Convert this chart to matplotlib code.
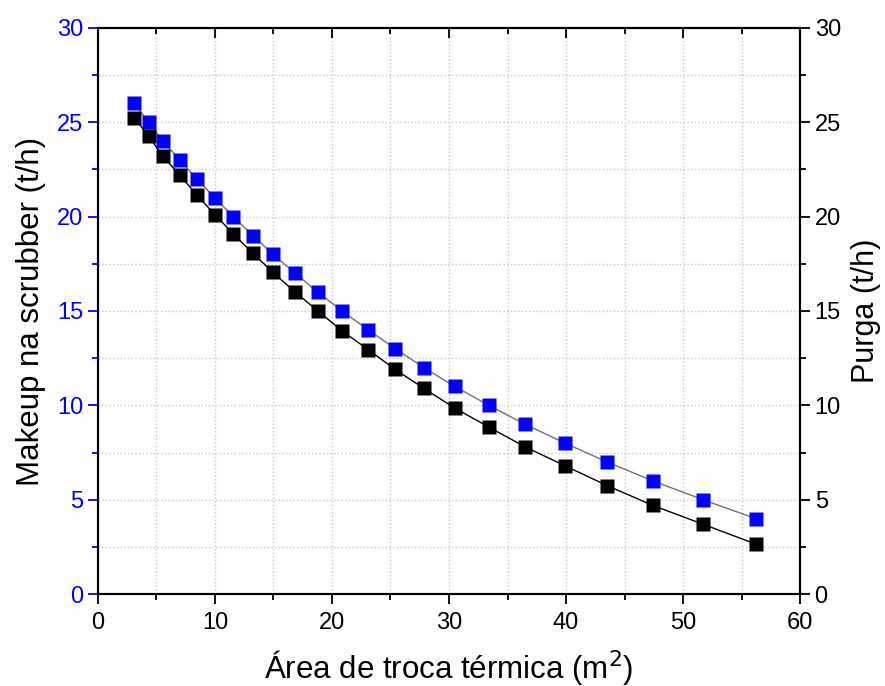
import matplotlib
matplotlib.use("Agg")
import matplotlib.pyplot as plt
from matplotlib.ticker import MultipleLocator

plt.rcParams['font.family'] = ['Liberation Sans', 'DejaVu Sans']

# Dados
area = [3.1, 4.35, 5.55, 7.0, 8.45, 10.0, 11.55, 13.25, 14.95, 16.85, 18.8, 20.85,
        23.1, 25.4, 27.85, 30.5, 33.4, 36.5, 39.9, 43.5, 47.4, 51.7, 56.2]
makeup = [26, 25, 24, 23, 22, 21, 20, 19, 18, 17, 16, 15,
          14, 13, 12, 11, 10, 9, 8, 7, 6, 5, 4]
purga = [25.25, 24.25, 23.2, 22.2, 21.15, 20.1, 19.1, 18.05, 17.05, 16.0, 15.0, 13.95,
         12.95, 11.9, 10.9, 9.85, 8.85, 7.8, 6.8, 5.75, 4.7, 3.7, 2.65]

fig = plt.figure(figsize=(8.85, 6.86), dpi=100)
ax = fig.add_axes([0.1107, 0.1341, 0.7933, 0.8251])
ax2 = ax.twinx()

ax.plot(area, makeup, color='#707070', lw=1.0, marker='s', ms=10.5,
        mfc='#0000ff', mec='none', zorder=3)
ax2.plot(area, purga, color='black', lw=1.0, marker='s', ms=10.5,
         mfc='black', mec='none', zorder=3)

for a in (ax, ax2):
    a.set_xlim(0, 60)
    a.set_ylim(0, 30)
    a.yaxis.set_major_locator(MultipleLocator(5))
    a.yaxis.set_minor_locator(MultipleLocator(2.5))
    for s in a.spines.values():
        s.set_linewidth(1.5)

ax.xaxis.set_major_locator(MultipleLocator(10))
ax.xaxis.set_minor_locator(MultipleLocator(5))

ax.grid(True, which='both', color='#c8c8c8', ls=':', lw=1.0)
ax.set_axisbelow(True)

ax.tick_params(axis='x', which='both', direction='out', top=True, labeltop=False,
               labelsize=17, width=1.3, pad=6)
ax.tick_params(axis='x', which='major', length=7)
ax.tick_params(axis='x', which='minor', length=4)

ax.tick_params(axis='y', which='both', direction='out', colors='#0000ff', labelsize=17, width=1.3)
ax.tick_params(axis='y', which='major', length=7)
ax.tick_params(axis='y', which='minor', length=4)
ax.spines['left'].set_color('#0000ff')

ax2.tick_params(axis='y', which='both', direction='out', labelsize=17, width=1.3)
ax2.tick_params(axis='y', which='major', length=7)
ax2.tick_params(axis='y', which='minor', length=4)

ax.set_xlabel('Área de troca térmica (m$^2$)', fontsize=22.5, labelpad=10)
ax.set_ylabel('Makeup na scrubber (t/h)', fontsize=22.5, labelpad=8)
ax2.set_ylabel('Purga (t/h)', fontsize=22, labelpad=7)

# ticks do eixo superior para dentro
for t in ax.xaxis.get_major_ticks() + ax.xaxis.get_minor_ticks():
    t.tick2line.set_marker(3)

fig.savefig('out.png', dpi=100)
